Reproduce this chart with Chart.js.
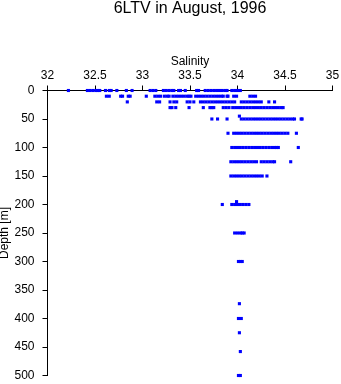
<!DOCTYPE html>
<html>
<head>
<meta charset="utf-8">
<script src="https://cdn.jsdelivr.net/npm/chart.js@4/dist/chart.umd.min.js"></script>
<style>
  html, body { margin: 0; padding: 0; background: #fff; }
  #wrap { position: relative; width: 341px; height: 384px; }
</style>
</head>
<body>
<div id="wrap"><canvas id="c"></canvas></div>
<script>
const titleText = '6LTV in August, 1996';
const xTitle = 'Salinity';
const yTitle = 'Depth [m]';

const xTickValues = [32, 32.5, 33, 33.5, 34, 34.5, 35];
const xTickLabels = ['32', '32.5', '33', '33.5', '34', '34.5', '35'];
const yTickValues = [0, 50, 100, 150, 200, 250, 300, 350, 400, 450, 500];
const yTickLabels = ['0', '50', '100', '150', '200', '250', '300', '350', '400', '450', '500'];

const depths = [0, 10, 20, 30, 45, 50, 75, 100, 125, 150, 195, 200, 250, 300, 374, 400, 425, 458, 500];

const sal0 = [32.22, 32.42, 32.45, 32.48, 32.51, 32.53, 32.55, 32.61, 32.65, 32.67, 32.73, 32.83, 32.89,
  33.08, 33.11, 33.14, 33.22, 33.25, 33.28, 33.31, 33.33, 33.38, 33.40, 33.45, 33.57, 33.59,
  33.66, 33.69, 33.72, 33.75, 33.78, 33.81, 33.84, 33.87, 33.89, 33.94, 33.97, 34.00, 34.03];
const sal10 = [32.62, 32.65, 32.77, 32.79, 32.85, 32.87, 33.04, 33.13, 33.16, 33.19, 33.23, 33.26, 33.28,
  33.32, 33.35, 33.38, 33.41, 33.44, 33.47, 33.49, 33.51,
  33.56, 33.59, 33.62, 33.65, 33.68, 33.71, 33.74, 33.77, 33.80, 33.83, 33.85,
  33.89, 33.90, 33.96, 33.99, 34.13, 34.16, 34.19];
const sal20 = [32.84, 33.15, 33.18, 33.29, 33.33, 33.36, 33.47, 33.50, 33.54,
  33.61, 33.64, 33.67, 33.70, 33.73, 33.76, 33.79, 33.82, 33.85, 33.88, 33.91, 33.94, 33.97,
  34.04, 34.07, 34.10, 34.13, 34.16, 34.19, 34.22, 34.25, 34.33, 34.39];
const sal30 = [33.29, 33.31, 33.35, 33.49, 33.64, 33.71, 33.73, 33.75, 33.85, 33.88, 33.91,
  33.95, 33.98, 34.01, 34.04, 34.07, 34.10, 34.13, 34.16, 34.19, 34.22, 34.25, 34.28, 34.31,
  34.34, 34.37, 34.40, 34.43, 34.46, 34.48];
const sal45 = [34.02];
const sal50 = [33.73, 33.79, 33.89, 34.04, 34.07, 34.10, 34.13, 34.16, 34.19, 34.22, 34.25, 34.28,
  34.31, 34.34, 34.37, 34.40, 34.43, 34.46, 34.49, 34.52, 34.55, 34.58, 34.60, 34.67, 34.68];
const sal75 = [33.90, 33.96, 33.99, 34.02, 34.05, 34.08, 34.11, 34.14, 34.17, 34.20, 34.23, 34.26,
  34.29, 34.32, 34.35, 34.38, 34.41, 34.44, 34.47, 34.50, 34.53, 34.62];
const sal100 = [33.94, 33.97, 34.00, 34.03, 34.06, 34.09, 34.12, 34.15, 34.18, 34.21, 34.24, 34.27,
  34.30, 34.33, 34.36, 34.39, 34.41, 34.43, 34.64];
const sal125 = [33.93, 33.96, 33.99, 34.02, 34.05, 34.08, 34.11, 34.14, 34.17, 34.20,
  34.25, 34.28, 34.31, 34.34, 34.37, 34.39, 34.56];
const sal150 = [33.93, 33.96, 33.99, 34.02, 34.05, 34.08, 34.11, 34.14, 34.17, 34.20, 34.23, 34.26, 34.31];
const sal195 = [33.99];
const sal200 = [33.84, 33.94, 33.97, 34.00, 34.03, 34.06, 34.09, 34.12];
const sal250 = [33.97, 34.00, 34.03, 34.05, 34.07];
const sal300 = [34.01, 34.03, 34.05];
const sal374 = [34.02];
const sal400 = [34.01, 34.04];
const sal425 = [34.02];
const sal458 = [34.03];
const sal500 = [34.01, 34.03];

const salByDepth = [sal0, sal10, sal20, sal30, sal45, sal50, sal75, sal100, sal125, sal150,
  sal195, sal200, sal250, sal300, sal374, sal400, sal425, sal458, sal500];

const points = [];
depths.forEach((d, i) => salByDepth[i].forEach(s => points.push({ x: s, y: d })));

const FONT = "'Liberation Sans', Arial, Helvetica, sans-serif";
Chart.defaults.color = '#000';
Chart.defaults.font.family = FONT;

function zeroPad(s) { s.paddingLeft = 0; s.paddingRight = 0; s.paddingTop = 0; s.paddingBottom = 0; }

new Chart(document.getElementById('c'), {
  type: 'scatter',
  data: {
    datasets: [{
      data: points,
      clip: false,
      pointStyle: 'rect',
      pointRadius: 2.2,
      pointHoverRadius: 2.2,
      pointBorderWidth: 0,
      backgroundColor: '#0000ff',
      borderColor: '#0000ff'
    }]
  },
  options: {
    responsive: true,
    maintainAspectRatio: false,
    animation: false,
    layout: { autoPadding: false, padding: { top: 0, right: 8.5, bottom: 8.5, left: 0 } },
    plugins: {
      legend: { display: false },
      tooltip: { enabled: false },
      title: {
        display: true,
        text: titleText,
        fullSize: false,
        color: '#000',
        font: { family: FONT, size: 16, weight: 'normal', lineHeight: 1 },
        padding: { top: 0.5, bottom: 37.6 }
      }
    },
    scales: {
      x: {
        type: 'linear',
        position: 'top',
        min: 32,
        max: 35,
        afterBuildTicks: s => { s.ticks = xTickValues.map(v => ({ value: v })); },
        afterFit: s => { s.height = 36.4; zeroPad(s); },
        ticks: {
          font: { family: FONT, size: 12 },
          color: '#000',
          padding: 3,
          maxRotation: 0,
          callback: (v, i) => xTickLabels[i]
        },
        grid: { display: true, drawOnChartArea: false, drawTicks: true, tickLength: 5, color: '#000', lineWidth: 1 },
        border: { display: true, color: '#000', width: 1 },
        title: { display: true, text: xTitle, color: '#000', font: { family: FONT, size: 12 }, padding: { top: 0, bottom: 0 } }
      },
      y: {
        type: 'linear',
        position: 'left',
        reverse: true,
        min: 0,
        max: 500,
        afterBuildTicks: s => { s.ticks = yTickValues.map(v => ({ value: v })); },
        afterFit: s => { s.width = 47.5; zeroPad(s); },
        ticks: {
          font: { family: FONT, size: 12 },
          color: '#000',
          padding: 8,
          callback: (v, i) => yTickLabels[i]
        },
        grid: { display: true, drawOnChartArea: false, drawTicks: true, tickLength: 5, color: '#000', lineWidth: 1 },
        border: { display: true, color: '#000', width: 1 },
        title: { display: true, text: yTitle, color: '#000', font: { family: FONT, size: 12, lineHeight: 0.8 }, padding: { top: 0, bottom: 0 } }
      }
    }
  }
});
</script>
</body>
</html>
